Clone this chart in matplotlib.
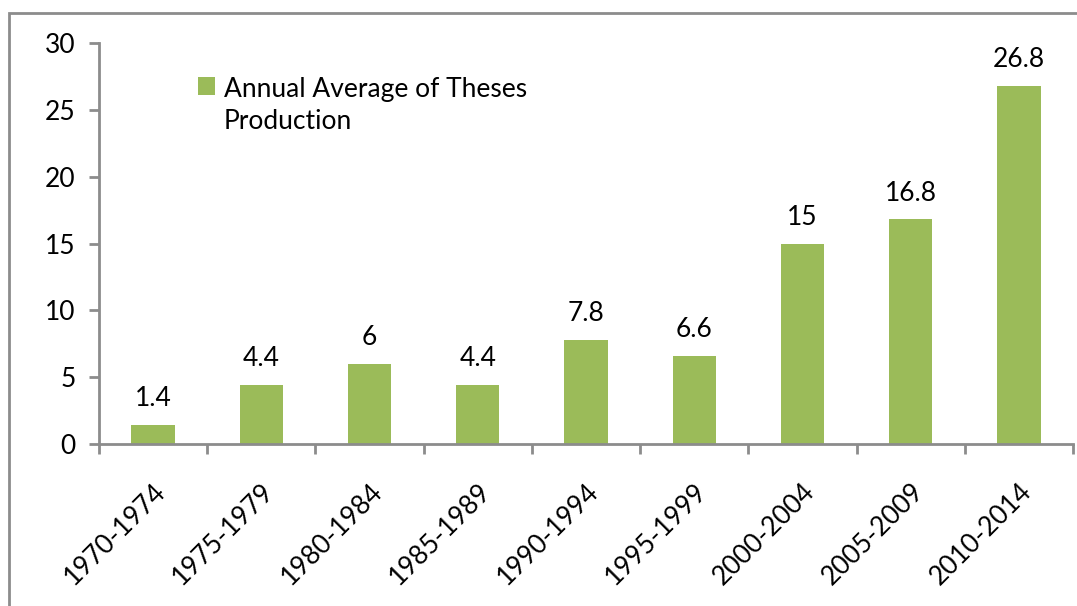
import matplotlib
matplotlib.use("Agg")
import matplotlib.pyplot as plt
from matplotlib.patches import Rectangle

periods = ["1970-1974", "1975-1979", "1980-1984", "1985-1989", "1990-1994",
           "1995-1999", "2000-2004", "2005-2009", "2010-2014"]
theses = [1.4, 4.4, 6, 4.4, 7.8, 6.6, 15, 16.8, 26.8]
value_labels = ["1.4", "4.4", "6", "4.4", "7.8", "6.6", "15", "16.8", "26.8"]
series_name = "Annual Average of Theses\nProduction"

GREEN = "#9BBB59"
GRAY = "#8c8c8c"
W, H = 1077, 606

plt.rcParams["font.family"] = ["Lato", "DejaVu Sans"]

fig = plt.figure(figsize=(W / 100, H / 100), dpi=100)
ax = fig.add_axes([99 / W, 1 - 444 / H, 974 / W, 401 / H])

x = range(len(periods))
ax.bar(x, theses, width=0.4, color=GREEN)

for xi, v, lab in zip(x, theses, value_labels):
    ax.annotate(lab, (xi, v), xytext=(0, 10), textcoords="offset points",
                ha="center", va="bottom", fontsize=19)

ax.set_xlim(-0.5, len(periods) - 0.5)
ax.set_ylim(0, 30)
ax.set_yticks(range(0, 31, 5))
ax.set_xticks(x)
ax.set_xticklabels(periods, rotation=45, ha="right", rotation_mode="anchor", fontsize=19)
ax.tick_params(axis="x", length=0, pad=25)
ax.tick_params(axis="y", labelsize=19, length=7, width=2, color=GRAY, pad=10)

# category boundary ticks on the x axis
ax.set_xticks([i - 0.5 for i in range(len(periods) + 1)], minor=True)
ax.tick_params(axis="x", which="minor", length=7, width=2, color=GRAY)

for side in ("top", "right"):
    ax.spines[side].set_visible(False)
for side in ("left", "bottom"):
    ax.spines[side].set_color(GRAY)
    ax.spines[side].set_linewidth(2)

# legend drawn by hand: marker lines up with the first text line
fig.patches.append(Rectangle((198 / W, 1 - 95 / H), 17 / W, 18 / H,
                             transform=fig.transFigure, facecolor=GREEN,
                             edgecolor="none"))
fig.text(224 / W, 1 - 77 / H, series_name, ha="left", va="top",
         fontsize=19, linespacing=1.35)

# outer chart frame
fig.patches.append(Rectangle((9 / W, -0.1), 1.2, 1 - 13 / H + 0.1,
                             transform=fig.transFigure, fill=False,
                             edgecolor=GRAY, linewidth=2))

fig.savefig("out.png", dpi=100)
